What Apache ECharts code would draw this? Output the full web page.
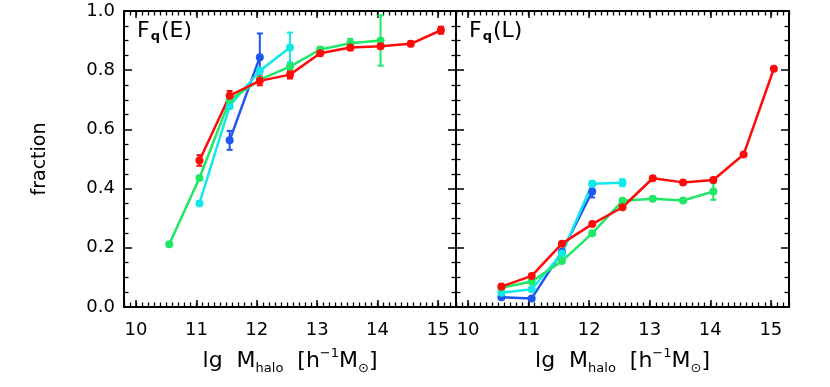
<!DOCTYPE html>
<html>
<head>
<meta charset="utf-8">
<script src="https://cdn.jsdelivr.net/npm/echarts@6/dist/echarts.min.js"></script>
<style>
  html, body { margin: 0; padding: 0; background: #fff; }
  #chart { width: 830px; height: 387px; }
</style>
</head>
<body>
<div id="chart"></div>
<script>
// halo mass bins (lg M_halo)
const massBins = [10.55, 11.05, 11.55, 12.05, 12.55, 13.05, 13.55, 14.05, 14.55, 15.05];
const xTickLabels = [10, 11, 12, 13, 14, 15];
const yTickLabels = [0, 0.2, 0.4, 0.6, 0.8, 1.0];

// Fq(E) panel
const redE = [null, 0.495, 0.714, 0.764, 0.785, 0.857, 0.877, 0.881, 0.889, 0.935];
const redEErr = [0, 0.018, 0.016, 0.015, 0.013, 0.008, 0.01, 0.008, 0.008, 0.012];
const greenE = [0.212, 0.436, 0.699, 0.768, 0.812, 0.870, 0.891, 0.900];
const greenEErr = [0, 0, 0, 0.008, 0.01, 0.008, 0.015, 0.085];
const cyanE = [null, 0.350, 0.679, 0.798, 0.877];
const cyanEErr = [0, 0, 0.01, 0.01, 0.05];
const blueE = [null, null, 0.563, 0.844];
const blueEErr = [0, 0, 0.032, 0.08];

// Fq(L) panel
const redL = [0.069, 0.105, 0.214, 0.280, 0.337, 0.435, 0.421, 0.429, 0.515, 0.805];
const redLErr = [0, 0, 0, 0, 0, 0, 0, 0, 0, 0];
const greenL = [0.065, 0.086, 0.155, 0.249, 0.359, 0.366, 0.360, 0.390];
const greenLErr = [0, 0, 0, 0, 0, 0, 0, 0.028];
const cyanL = [0.048, 0.060, 0.181, 0.416, 0.420];
const cyanLErr = [0, 0, 0, 0.01, 0.012];
const blueL = [0.033, 0.029, 0.187, 0.390];
const blueLErr = [0, 0, 0, 0.02];

const COLORS = { blue: '#1f55f0', cyan: '#12e8e8', green: '#1ee866', red: '#ff0a0a' };
const FONT = 'DejaVu Sans';

// minor x ticks every 0.1
const minorX = [];
for (let i = 98; i <= 153; i++) minorX.push(i / 10);

function pairs(vals) {
  const out = [];
  vals.forEach((v, i) => { if (v != null) out.push([massBins[i], v]); });
  return out;
}
function errs(vals, e) {
  const out = [];
  vals.forEach((v, i) => { if (v != null && e[i] > 0) out.push([massBins[i], v, e[i]]); });
  return out;
}

function errRender(color) {
  return function (params, api) {
    const x = api.value(0), y = api.value(1), e = api.value(2);
    const lo = api.coord([x, y - e]);
    const hi = api.coord([x, y + e]);
    const w = 3;
    const st = { stroke: color, lineWidth: 2 };
    return {
      type: 'group',
      children: [
        { type: 'line', shape: { x1: lo[0], y1: lo[1], x2: hi[0], y2: hi[1] }, style: st },
        { type: 'line', shape: { x1: lo[0] - w, y1: lo[1], x2: lo[0] + w, y2: lo[1] }, style: st },
        { type: 'line', shape: { x1: hi[0] - w, y1: hi[1], x2: hi[0] + w, y2: hi[1] }, style: st }
      ]
    };
  };
}

function xAxes(grid, pos, showLabel, name) {
  return [
    {
      type: 'value', gridIndex: grid, position: pos, offset: 0, min: 9.8, max: 15.3,
      axisLine: { show: true, lineStyle: { color: '#000', width: 2 } },
      axisTick: { show: true, inside: true, length: 7, customValues: xTickLabels, lineStyle: { color: '#000', width: 1.5 } },
      axisLabel: { show: showLabel, customValues: xTickLabels, color: '#000', fontSize: 18, fontFamily: FONT, margin: 14 },
      splitLine: { show: false },
      name: name || '', nameLocation: 'middle', nameGap: 40,
      nameTextStyle: {
        color: '#000', fontSize: 22, fontFamily: FONT, lineHeight: 28,
        rich: {
          sub: { fontSize: 13, fontFamily: FONT, verticalAlign: 'bottom', lineHeight: 15, padding: [11, 0, 0, 0] },
          sup: { fontSize: 13, fontFamily: FONT, verticalAlign: 'top', lineHeight: 15, padding: [0, 0, 9, 0] }
        }
      }
    },
    {
      type: 'value', gridIndex: grid, position: pos, offset: 0, min: 9.8, max: 15.3,
      axisLine: { show: false },
      axisTick: { show: true, inside: true, length: 4.5, customValues: minorX, lineStyle: { color: '#000', width: 1.3 } },
      axisLabel: { show: false },
      splitLine: { show: false }
    }
  ];
}

function yAxis(grid, pos, showLabel, name) {
  return {
    type: 'value', gridIndex: grid, position: pos, min: 0, max: 1, interval: 0.2,
    axisLine: { show: true, lineStyle: { color: '#000', width: 2 } },
    axisTick: { show: true, inside: true, length: 8, lineStyle: { color: '#000', width: 1.5 } },
    minorTick: { show: true, splitNumber: 4, length: 4.5, lineStyle: { color: '#000', width: 1.3 } },
    axisLabel: { show: showLabel, color: '#000', fontSize: 18, fontFamily: FONT, margin: 9,
      formatter: v => v.toFixed(1) },
    splitLine: { show: false },
    name: name || '', nameLocation: 'middle', nameGap: 74, nameRotate: 90,
    nameTextStyle: { color: '#000', fontSize: 19, fontFamily: FONT }
  };
}

const xName = 'lg  M{sub|halo}  [h{sup|−1}M{sub|⊙}]';

function lineSeries(data, color, xi, yi) {
  return {
    type: 'line', data: pairs(data), xAxisIndex: xi, yAxisIndex: yi,
    symbol: 'circle', symbolSize: 8, showSymbol: true,
    lineStyle: { color: color, width: 2.5 }, itemStyle: { color: color },
    animation: false
  };
}
function errSeries(vals, e, color, xi, yi) {
  return {
    type: 'custom', data: errs(vals, e), xAxisIndex: xi, yAxisIndex: yi,
    renderItem: errRender(color), animation: false, z: 3
  };
}

const panels = [
  { xi: 0, yi: 0, sets: [[blueE, blueEErr, COLORS.blue], [cyanE, cyanEErr, COLORS.cyan], [greenE, greenEErr, COLORS.green], [redE, redEErr, COLORS.red]] },
  { xi: 4, yi: 2, sets: [[blueL, blueLErr, COLORS.blue], [cyanL, cyanLErr, COLORS.cyan], [greenL, greenLErr, COLORS.green], [redL, redLErr, COLORS.red]] }
];
const series = [];
panels.forEach(p => {
  p.sets.forEach(s => {
    series.push(errSeries(s[0], s[1], s[2], p.xi, p.yi));
    series.push(lineSeries(s[0], s[2], p.xi, p.yi));
  });
});

const chart = echarts.init(document.getElementById('chart'), null, { renderer: 'canvas' });
chart.setOption({
  backgroundColor: '#fff',
  animation: false,
  grid: [
    { left: 124, top: 11, width: 332, height: 296 },
    { left: 456, top: 11, width: 333, height: 296 }
  ],
  xAxis: [].concat(
    xAxes(0, 'bottom', true, xName),
    xAxes(0, 'top', false),
    xAxes(1, 'bottom', true, xName),
    xAxes(1, 'top', false)
  ),
  yAxis: [
    yAxis(0, 'left', true, 'fraction'),
    yAxis(0, 'right', false),
    yAxis(1, 'left', false),
    yAxis(1, 'right', false)
  ],
  graphic: [
    { type: 'text', left: 137, top: 20, style: { text: 'F{q|q}(E)', fill: '#000', fontSize: 22, fontFamily: FONT,
      rich: { q: { fontSize: 13, fontFamily: FONT, fontWeight: 'bold', verticalAlign: 'bottom', padding: [12, 1, 0, 1] } } } },
    { type: 'text', left: 469, top: 20, style: { text: 'F{q|q}(L)', fill: '#000', fontSize: 22, fontFamily: FONT,
      rich: { q: { fontSize: 13, fontFamily: FONT, fontWeight: 'bold', verticalAlign: 'bottom', padding: [12, 1, 0, 1] } } } }
  ],
  series: series
});
</script>
</body>
</html>
